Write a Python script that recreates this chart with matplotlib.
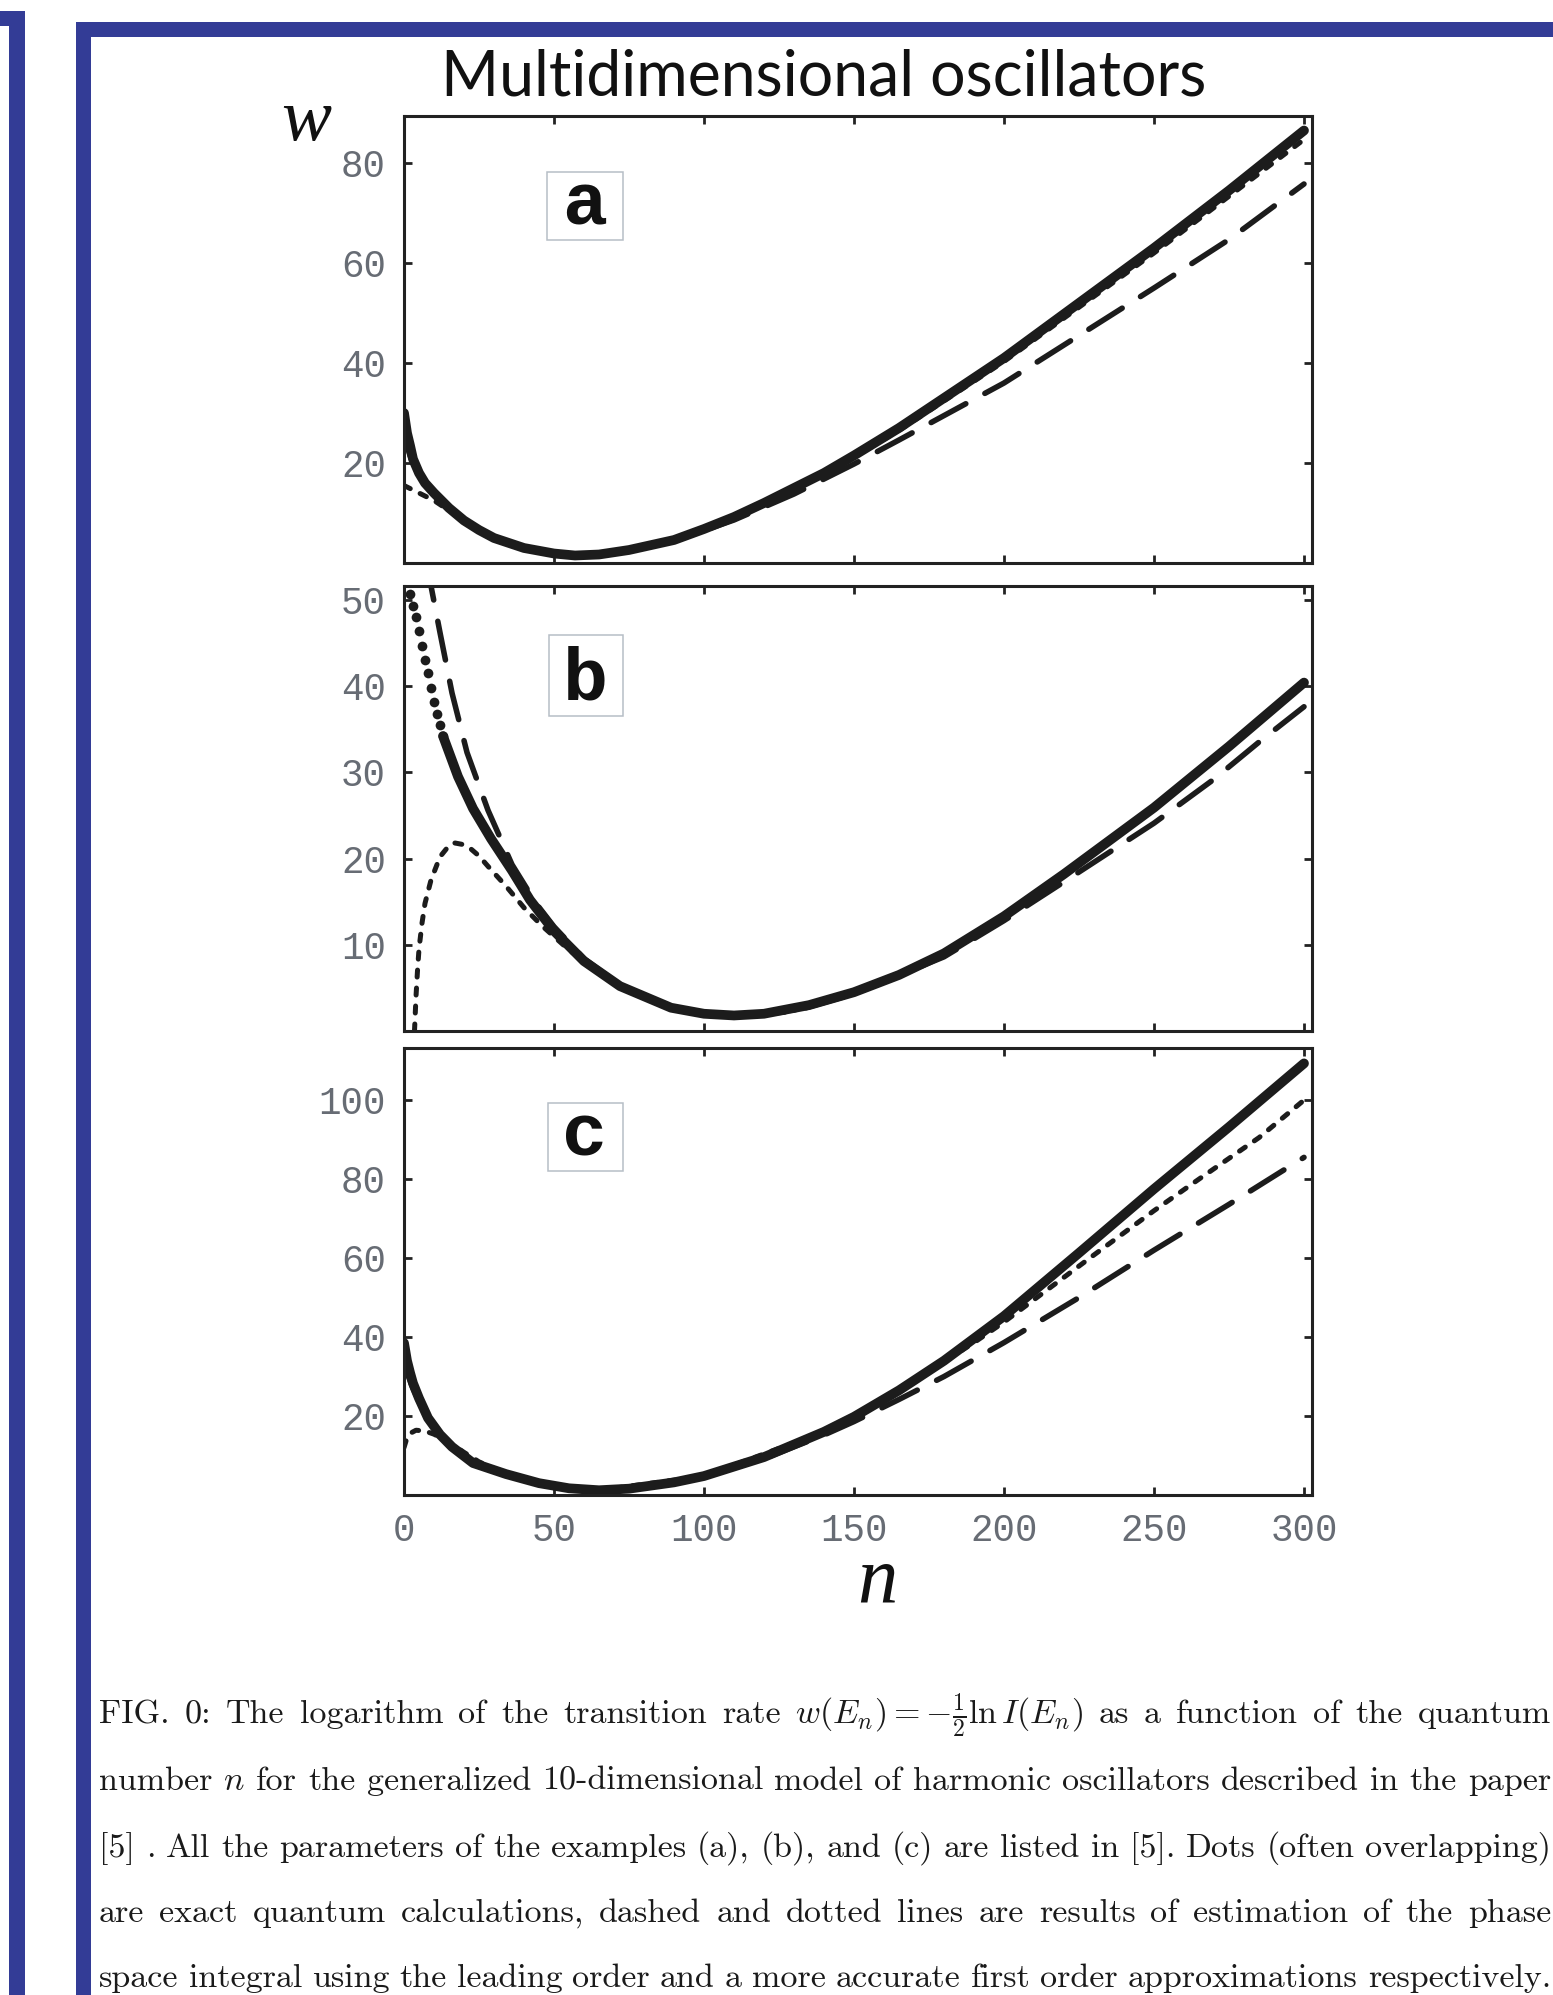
import re
import matplotlib
matplotlib.use('Agg')
import matplotlib.pyplot as plt
from matplotlib.patches import Rectangle

plt.rcParams['mathtext.fontset'] = 'cm'

# ---- data ----
n_ticks = [0, 50, 100, 150, 200, 250, 300]

# panel a
a_exact_n = [0, 1, 2, 3, 5, 7, 10, 15, 20, 25, 30, 40, 50, 57, 65, 75, 90, 100, 110,
             120, 130, 140, 150, 165, 180, 200, 225, 250, 275, 300]
a_exact_w = [30, 26, 23.5, 20.8, 18, 16, 14, 11, 8.5, 6.6, 5, 3, 1.9, 1.5, 1.7, 2.6, 4.6,
             6.8, 9.2, 12, 15, 18, 21.5, 27, 33, 41, 52, 63, 74.5, 86.5]
a_first_n = [0, 5, 10, 15, 20, 30, 40, 50, 57, 70, 90, 110, 130, 150, 165, 200, 250, 300]
a_first_w = [15.5, 14, 12.5, 10.5, 8.4, 5, 3, 1.9, 1.5, 2.0, 4.5, 9.1, 14.8, 21.2, 26.5,
             40.3, 62, 84.7]
a_lead_n = [0, 1, 2, 3, 5, 7, 10, 15, 20, 30, 40, 50, 57, 70, 90, 110, 130, 150, 165,
            200, 225, 250, 275, 300]
a_lead_w = [26, 23.5, 21.5, 20, 17.5, 15.8, 13.8, 10.8, 8.4, 5, 3, 1.9, 1.5, 2.0, 4.4,
            8.6, 13.8, 19.8, 24.6, 36, 45.5, 55, 64.7, 75.8]

# panel b
b_dots_n = [1, 2, 3, 4, 5, 6, 7, 8, 9, 10, 11, 12, 13]
b_dots_w = [52.2, 50.7, 49.3, 48, 46.4, 44.7, 43, 41.5, 39.8, 38.2, 36.8, 35.5, 34.2]
b_exact_n = [13, 18, 23, 29, 36, 42, 50, 60, 72, 89, 100, 110, 120, 135, 150, 165, 180,
             200, 220, 250, 275, 300]
b_exact_w = [34.2, 29.5, 25.8, 22.3, 18.6, 15.2, 11.6, 8.1, 5.2, 2.7, 2.0, 1.8, 2.0, 3.0,
             4.5, 6.5, 9.0, 13.3, 18.2, 25.9, 33.0, 40.4]
b_first_n = [3.5, 4, 4.5, 5, 6, 7, 9, 12, 15, 17, 20, 22, 25, 28, 34, 40, 46, 55, 70, 89,
             110, 130, 150, 180, 200, 250, 300]
b_first_w = [0, 4, 7, 9.5, 12.5, 14.8, 17.5, 20.2, 21.5, 21.8, 21.6, 21.2, 20.3, 19.1,
             16.8, 14.3, 12.2, 9.4, 5.5, 2.6, 1.8, 2.4, 4.4, 8.9, 13.2, 25.8, 40.3]
b_lead_n = [8, 9, 12, 16, 21, 28, 36, 44, 50, 60, 72, 89, 110, 130, 150, 180, 200, 220,
            235, 250, 270, 285, 300]
b_lead_w = [54.5, 51.6, 46.2, 39.2, 32.3, 25.6, 19.3, 14.8, 12.1, 8.4, 5.3, 2.6, 1.7, 2.3,
            4.3, 8.6, 12.8, 17.3, 20.7, 24.1, 29.2, 33.5, 37.6]

# panel c
c_exact_n = [0, 1, 2, 3, 5, 8, 12, 16, 23, 34, 45, 55, 65, 75, 90, 100, 120, 140, 150,
             165, 180, 200, 225, 250, 275, 300]
c_exact_w = [38.5, 34, 31, 28.3, 24.5, 19.5, 15.3, 12.2, 8.1, 5.3, 3.0, 1.7, 1.2, 1.6,
             3.2, 4.8, 9.6, 16, 19.8, 26.5, 34, 45.3, 61.3, 77.5, 93.2, 109.3]
c_first_n = [0, 1, 2, 4, 7, 10, 15, 20, 25, 34, 45, 65, 100, 140, 165, 175, 190, 200, 215,
             230, 250, 265, 285, 300]
c_first_w = [12, 14.5, 15.6, 16.4, 16.2, 15.4, 13.4, 10.8, 8.4, 5.4, 3.0, 1.2, 4.8, 16,
             26.3, 31.3, 38.6, 43.8, 52.3, 60.8, 72, 80, 90.5, 100]
c_lead_n = [0, 3, 6, 10, 15, 23, 34, 45, 60, 65, 80, 100, 120, 140, 150, 165, 180, 200,
            225, 250, 275, 300]
c_lead_w = [33, 27, 22, 17, 12.5, 8, 5.2, 3, 1.4, 1.2, 1.8, 4.6, 9.2, 15.2, 18.6, 24.2,
            30, 38.6, 50, 62, 73.6, 85.5]

panels = [
    dict(tag='a', ylim=89.4, yticks=[20, 40, 60, 80],
         exact=(a_exact_n, a_exact_w), first=(a_first_n, a_first_w), lead=(a_lead_n, a_lead_w)),
    dict(tag='b', ylim=51.6, yticks=[10, 20, 30, 40, 50],
         exact=(b_exact_n, b_exact_w), first=(b_first_n, b_first_w), lead=(b_lead_n, b_lead_w),
         dots=(b_dots_n, b_dots_w)),
    dict(tag='c', ylim=113.2, yticks=[20, 40, 60, 80, 100],
         exact=(c_exact_n, c_exact_w), first=(c_first_n, c_first_w), lead=(c_lead_n, c_lead_w)),
]

caption = [
    r"FIG. 0: The logarithm of the transition rate $w(E_n) = -\frac{1}{2}\ln I(E_n)$ as a function of the quantum",
    r"number $n$ for the generalized 10-dimensional model of harmonic oscillators described in the paper",
    r"[5] . All the parameters of the examples (a), (b), and (c) are listed in [5]. Dots (often overlapping)",
    r"are exact quantum calculations, dashed and dotted lines are results of estimation of the phase",
    r"space integral using the leading order and a more accurate first order approximations respectively.",
]

# ---- figure ----
W, H = 1553, 1995
fig = plt.figure(figsize=(W / 100, H / 100), dpi=100)
blue = '#333c96'
ink = '#1c1c1c'


def px_rect(x0, y0, x1, y1):
    # pixel box (top-left origin) -> figure fraction rectangle
    fig.patches.append(Rectangle((x0 / W, 1 - y1 / H), (x1 - x0) / W, (y1 - y0) / H,
                                 transform=fig.transFigure, facecolor=blue,
                                 edgecolor='none', zorder=0))


# blue frames
px_rect(0, 11, 25, 26)
px_rect(9, 11, 25, H)
px_rect(76, 22, W, 37)
px_rect(76, 22, 91, H)

# axes boxes (pixel top / bottom)
boxes = [(116, 563), (586, 1031), (1048, 1495)]
ax_left, ax_right = 404, 1312
label_boxes = [(547, 172, 623, 240), (549, 635, 623, 716), (548, 1103, 623, 1171)]
label_base = [225, 700, 1156]

axes = []
for i, (p, (top, bot)) in enumerate(zip(panels, boxes)):
    ax = fig.add_axes([ax_left / W, 1 - bot / H, (ax_right - ax_left) / W, (bot - top) / H])
    axes.append(ax)
    ex_n, ex_w = p['exact']
    ax.plot(ex_n, ex_w, '-', color=ink, lw=7, solid_capstyle='round', solid_joinstyle='round')
    if 'dots' in p:
        ax.plot(p['dots'][0], p['dots'][1], 'o', color=ink, ms=7, mec='none')
    ax.plot(p['lead'][0], p['lead'][1], color=ink, lw=4, dashes=(7.1, 3.9),
            dash_capstyle='round')
    ax.plot(p['first'][0], p['first'][1], color=ink, lw=3.6, dashes=(1.4, 2.2),
            dash_capstyle='round')

    ax.set_xlim(0, (ax_right - ax_left) / 3.0)
    ax.set_ylim(0, p['ylim'])
    ax.set_xticks(n_ticks)
    ax.set_yticks(p['yticks'])
    ax.tick_params(direction='in', length=6, width=2, top=True, right=True,
                   color='#222222', labelcolor='#676c74', labelsize=27, pad=13)
    for lab in ax.get_xticklabels() + ax.get_yticklabels():
        lab.set_family('Liberation Mono')
    if i < 2:
        ax.tick_params(labelbottom=False)
    for s in ax.spines.values():
        s.set_linewidth(2.2)
        s.set_color('#222222')

    # boxed panel letter
    bx0, by0, bx1, by1 = label_boxes[i]
    fig.patches.append(Rectangle((bx0 / W, 1 - by1 / H), (bx1 - bx0) / W, (by1 - by0) / H,
                                 transform=fig.transFigure, facecolor='white',
                                 edgecolor='#b7bec6', lw=1.1, zorder=1))
    fig.text(585 / W, 1 - label_base[i] / H, p['tag'], ha='center', va='baseline',
             family='Liberation Mono', fontweight='bold', fontsize=54, color='#111111',
             zorder=2)

fig.text(824 / W, 1 - 95 / H, 'Multidimensional oscillators', ha='center', va='baseline',
         family=['Lato', 'DejaVu Sans'], fontsize=45, color='#111111')
fig.text(306 / W, 1 - 140 / H, 'w', ha='center', va='baseline',
         family='Liberation Serif', style='italic', fontsize=54, color='#111111')
fig.text(877 / W, 1 - 1602 / H, 'n', ha='center', va='baseline',
         family='Liberation Serif', style='italic', fontsize=58, color='#111111')

# justified caption
renderer = fig.canvas.get_renderer()
cap_base = [1723, 1790, 1857, 1922, 1987]
x_start, x_end = 99, 1551
for line, yb in zip(caption, cap_base):
    words = re.findall(r'\$[^$]*\$|\S+', line)
    texts = [fig.text(x_start / W, 1 - yb / H, w_, ha='left', va='baseline',
                      family=['cmr10', 'DejaVu Serif'], fontsize=24.5, color='#1a1a1a')
             for w_ in words]
    widths = [t.get_window_extent(renderer).width for t in texts]
    gap = max((x_end - x_start - sum(widths)) / (len(words) - 1), 4)
    x = x_start
    for t, wd in zip(texts, widths):
        t.set_x(x / W)
        x += wd + gap

fig.savefig('out.png', dpi=100, facecolor='white')
